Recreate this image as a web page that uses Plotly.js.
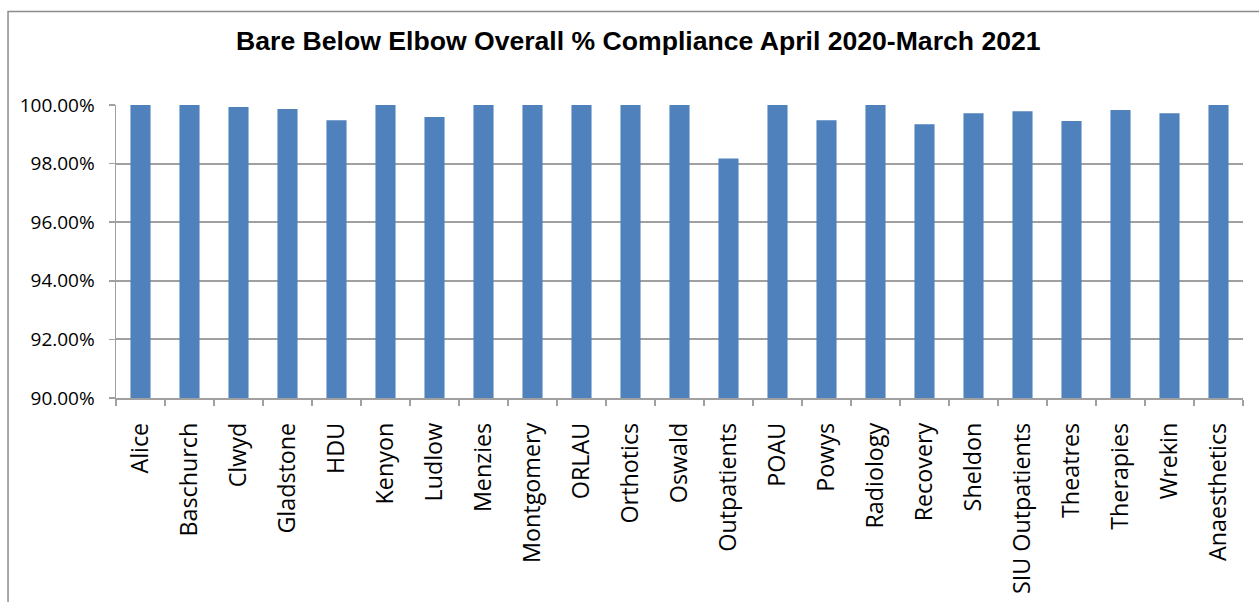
<!DOCTYPE html>
<html><head><meta charset="utf-8">
<script src="https://cdn.plot.ly/plotly-3.0.1.min.js"></script>
<style>html,body{margin:0;padding:0;background:#fff;}#chart{width:1259px;height:602px;}</style>
</head><body><div id="chart"></div>
<script>
const wards = ["Alice","Baschurch","Clwyd","Gladstone","HDU","Kenyon","Ludlow","Menzies","Montgomery","ORLAU","Orthotics","Oswald","Outpatients","POAU","Powys","Radiology","Recovery","Sheldon","SIU Outpatients","Theatres","Therapies","Wrekin","Anaesthetics"];
const compliance = [100,100,99.93,99.86,99.48,100,99.59,100,100,100,100,100,98.17,100,99.48,100,99.34,99.72,99.79,99.45,99.83,99.72,100];
const yTicks = [90,92,94,96,98,100];
const yTickLabels = ["90.00%","92.00%","94.00%","96.00%","98.00%","100.00%"];

const trace = {
  type:'bar', x:wards, y:compliance,
  marker:{color:'#4f81bd', line:{width:0}},
  hoverinfo:'x+y'
};
const layout = {
  width:1259, height:602,
  margin:{l:116, r:16, t:105, b:204},
  paper_bgcolor:'#fff', plot_bgcolor:'#fff',
  bargap:0.59,
  showlegend:false,
  title:{text:'<b>Bare Below Elbow Overall % Compliance April 2020-March 2021</b>',
    font:{family:'Liberation Sans, Arial, sans-serif', size:26.6, color:'#000'},
    x:0.507, xref:'container', xanchor:'center', y:0.932, yref:'container', yanchor:'middle'},
  xaxis:{
    type:'category', tickangle:-90,
    tickfont:{family:'Open Sans, sans-serif', size:23.3, color:'#000'},
    showline:true, linecolor:'#a0a0a0', linewidth:1.5,
    ticks:'outside', tickson:'boundaries', ticklen:6, tickcolor:'#a0a0a0', tickwidth:1.5,
    ticklabelstandoff:14,
    showgrid:false, automargin:false
  },
  yaxis:{
    range:[90,100], tickvals:yTicks, ticktext:yTickLabels,
    tickfont:{family:'Open Sans, sans-serif', size:19, color:'#000'},
    showline:true, linecolor:'#a0a0a0', linewidth:1.5,
    ticks:'outside', ticklen:6, tickcolor:'#a0a0a0', tickwidth:1.5,
    ticklabelstandoff:10,
    showgrid:true, gridcolor:'#a0a0a0', gridwidth:2,
    zeroline:false, automargin:false
  },
  shapes:[{type:'rect', xref:'paper', yref:'paper', x0:-0.0958, x1:1.2, y0:-1.5, y1:1.319,
    line:{color:'#8c8c8c', width:1.5}, fillcolor:'rgba(0,0,0,0)', layer:'below'}]
};
Plotly.newPlot('chart',[trace],layout,{displayModeBar:false, staticPlot:true});
</script></body></html>
